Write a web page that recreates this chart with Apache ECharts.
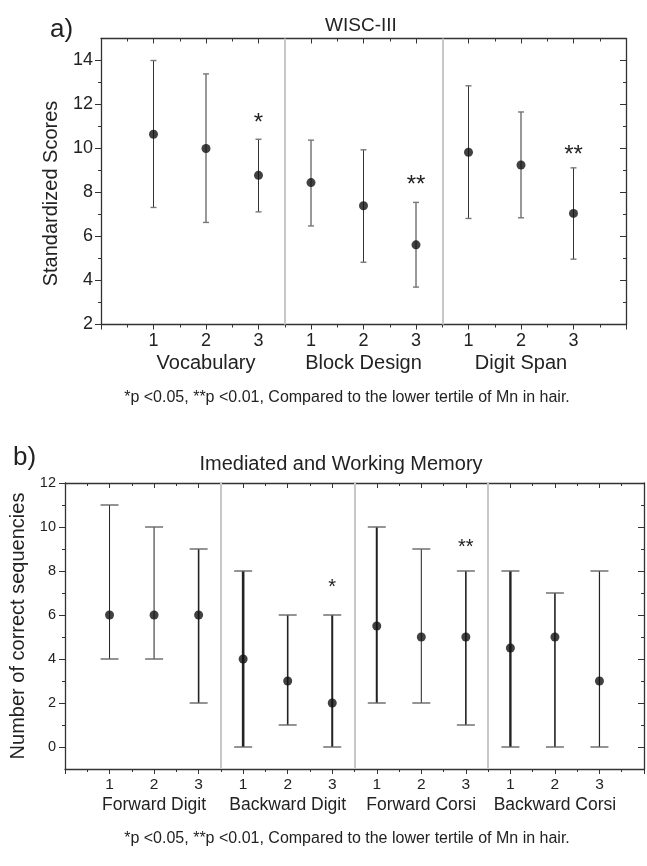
<!DOCTYPE html>
<html><head><meta charset="utf-8">
<script src="https://cdn.jsdelivr.net/npm/echarts@6/dist/echarts.min.js"></script>
<style>html,body{margin:0;padding:0;background:#fff}#c{width:647px;height:866px}</style>
</head><body><div id="c"></div>
<script>
// ---------- data ----------
const tertiles = ['1', '2', '3'];
// panel a
const groupsA = ['Vocabulary', 'Block Design', 'Digit Span'];
const meanA = [10.65, 10.0, 8.78, 8.45, 7.4, 5.62, 9.83, 9.25, 7.05];
const lowA  = [7.32, 6.64, 7.12, 6.48, 4.83, 3.7, 6.82, 6.85, 4.97];
const highA = [14.0, 13.39, 10.42, 10.38, 9.94, 7.55, 12.85, 11.66, 9.12];
const starsA = ['', '', '*', '', '', '**', '', '', '**'];
const starYA = [null, null, 11.4, null, null, 8.55, null, null, 9.95];
const yTicksA = [2, 4, 6, 8, 10, 12, 14];
const yMinorA = [3, 5, 7, 9, 11, 13];
const dividersA = [3.5, 6.5];
// panel b
const groupsB = ['Forward Digit', 'Backward Digit', 'Forward Corsi', 'Backward Corsi'];
const meanB = [6, 6, 6, 4, 3, 2, 5.5, 5, 5, 4.5, 5, 3];
const lowB  = [4, 4, 2, 0, 1, 0, 2, 2, 1, 0, 0, 0];
const highB = [11, 10, 9, 8, 6, 6, 10, 9, 8, 8, 7, 8];
const starsB = ['', '', '', '', '', '*', '', '', '**', '', '', ''];
const starYB = [null, null, null, null, null, 7.43, null, null, 9.25, null, null, null];
const yTicksB = [0, 2, 4, 6, 8, 10, 12];
const yMinorB = [1, 3, 5, 7, 9, 11];
const dividersB = [3.5, 6.5, 9.5];
// line weights of the error bars in panel b (style)
const lineWB = [1, 1, 1.6, 2.6, 1.6, 2, 2, 1, 1.6, 2.4, 1.6, 1.2];

const footnote = '*p <0.05, **p <0.01, Compared to the lower tertile of Mn in hair.';

// ---------- helpers ----------
const FONT = "'Liberation Sans', Arial, sans-serif";
const INK = '#222';
const AX = '#333';

function xLabelFmt(groups, n) {
  return function (v) {
    if (v < 1 || v > n) return '';
    const i = Math.round(v) - 1;
    const t = tertiles[i % 3];
    if (i % 3 === 1) return '{d|' + t + '}\n{n|' + groups[Math.floor(i / 3)] + '}';
    return '{d|' + t + '}';
  };
}

function xAxes(grid, max, n, groups, dSize, dLH, nSize, nLH) {
  return [
    {
      gridIndex: grid, type: 'value', min: 0, max: max, interval: 1, position: 'bottom',
      axisLine: { show: true, onZero: false, lineStyle: { color: AX, width: 1.3 } },
      axisTick: { show: true, length: 5, lineStyle: { color: AX, width: 1 } },
      minorTick: { show: true, splitNumber: 2, length: 3, lineStyle: { color: AX, width: 1 } },
      splitLine: { show: false },
      axisLabel: {
        margin: 7, formatter: xLabelFmt(groups, n),
        rich: {
          d: { fontFamily: FONT, fontSize: dSize, lineHeight: dLH, color: INK, align: 'center' },
          n: { fontFamily: FONT, fontSize: nSize, lineHeight: nLH, color: INK, align: 'center' }
        }
      }
    },
    {
      gridIndex: grid, type: 'value', min: 0, max: max, interval: 1, position: 'top',
      axisLine: { show: true, onZero: false, lineStyle: { color: AX, width: 1.3 } },
      axisTick: { show: true, inside: true, length: 5, lineStyle: { color: AX, width: 1 } },
      minorTick: { show: true, splitNumber: 2, length: 3, lineStyle: { color: AX, width: 1 } },
      splitLine: { show: false },
      axisLabel: { show: false }
    }
  ];
}

function yAxes(grid, min, max, major, minor, name, nameGap, namePad, labSize, labMargin) {
  const base = { gridIndex: grid, type: 'value', min: min, max: max, splitLine: { show: false } };
  return [
    Object.assign({}, base, {
      position: 'left',
      axisLine: { show: true, onZero: false, lineStyle: { color: AX, width: 1.3 } },
      axisTick: { show: true, length: 6, customValues: major, lineStyle: { color: AX, width: 1 } },
      axisLabel: { customValues: major, margin: labMargin, fontFamily: FONT, fontSize: labSize, color: INK },
      name: name, nameLocation: 'middle', nameGap: nameGap,
      nameTextStyle: { fontFamily: FONT, fontSize: 20, color: INK, padding: namePad }
    }),
    Object.assign({}, base, {
      position: 'left',
      axisLine: { show: false, onZero: false },
      axisTick: { show: true, length: 3, customValues: minor, lineStyle: { color: AX, width: 1 } },
      axisLabel: { show: false }
    }),
    Object.assign({}, base, {
      position: 'right',
      axisLine: { show: true, onZero: false, lineStyle: { color: AX, width: 1.3 } },
      axisTick: { show: true, inside: true, length: 6, customValues: major, lineStyle: { color: AX, width: 1 } },
      axisLabel: { show: false }
    }),
    Object.assign({}, base, {
      position: 'right',
      axisLine: { show: false, onZero: false },
      axisTick: { show: true, inside: true, length: 3, customValues: minor, lineStyle: { color: AX, width: 1 } },
      axisLabel: { show: false }
    })
  ];
}

function errSeries(xi, yi, means, lows, highs, capW, capColor, widths, lineColor) {
  return {
    type: 'custom', xAxisIndex: xi, yAxisIndex: yi, z: 3,
    data: means.map((m, i) => [i + 1, m, lows[i], highs[i]]),
    renderItem: function (params, api) {
      const x = api.value(0);
      const pLo = api.coord([x, api.value(2)]);
      const pHi = api.coord([x, api.value(3)]);
      const lw = widths ? widths[params.dataIndex] : 1;
      return {
        type: 'group', children: [
          { type: 'line', shape: { x1: pLo[0], y1: pLo[1], x2: pHi[0], y2: pHi[1] }, style: { stroke: lineColor, lineWidth: lw } },
          { type: 'line', shape: { x1: pHi[0] - capW / 2, y1: pHi[1], x2: pHi[0] + capW / 2, y2: pHi[1] }, style: { stroke: capColor, lineWidth: 1.4 } },
          { type: 'line', shape: { x1: pLo[0] - capW / 2, y1: pLo[1], x2: pLo[0] + capW / 2, y2: pLo[1] }, style: { stroke: capColor, lineWidth: 1.4 } }
        ]
      };
    }
  };
}

function meanSeries(xi, yi, means) {
  return {
    type: 'scatter', xAxisIndex: xi, yAxisIndex: yi, z: 4,
    symbol: 'circle', symbolSize: 9, itemStyle: { color: '#111' },
    data: means.map((m, i) => [i + 1, m])
  };
}

function starSeries(xi, yi, stars, ys, size) {
  const txt = [], data = [];
  stars.forEach((s, i) => { if (s) { txt.push(s); data.push([i + 1, ys[i]]); } });
  return {
    type: 'custom', xAxisIndex: xi, yAxisIndex: yi, z: 5, data: data,
    renderItem: function (params, api) {
      const p = api.coord([api.value(0), api.value(1)]);
      return {
        type: 'text', x: p[0], y: p[1] + size * 0.22,
        style: { text: txt[params.dataIndex], fontFamily: FONT, fontSize: size, fill: INK, align: 'center', verticalAlign: 'middle' }
      };
    }
  };
}

function dividerSeries(xi, yi, divs) {
  return {
    type: 'line', xAxisIndex: xi, yAxisIndex: yi, data: [], z: 1,
    markLine: {
      silent: true, symbol: ['none', 'none'], label: { show: false },
      lineStyle: { color: '#c8c8c8', width: 2, type: 'solid' },
      data: divs.map(v => ({ xAxis: v }))
    }
  };
}

const tStyle = (size) => ({ fontFamily: FONT, fontSize: size, fontWeight: 'normal', color: INK });

const option = {
  animation: false,
  backgroundColor: '#fff',
  title: [
    { text: 'a)', left: 45, top: 12, textStyle: tStyle(26) },
    { text: 'WISC-III', left: 356, top: 11, textAlign: 'center', textStyle: tStyle(19) },
    { text: footnote, left: 342, top: 385, textAlign: 'center', textStyle: tStyle(16) },
    { text: 'b)', left: 8, top: 440, textStyle: tStyle(26) },
    { text: 'Imediated and Working Memory', left: 336, top: 449, textAlign: 'center', textStyle: tStyle(20) },
    { text: footnote, left: 342, top: 826, textAlign: 'center', textStyle: tStyle(16) }
  ],
  grid: [
    { left: 101, top: 38.5, width: 525, height: 286, containLabel: false },
    { left: 65, top: 483, width: 581, height: 286, containLabel: false }
  ],
  xAxis: [].concat(
    xAxes(0, 10, 9, groupsA, 18, 20, 20, 24),
    xAxes(1, 13, 12, groupsB, 15.5, 17, 17.5, 25)
  ),
  yAxis: [].concat(
    yAxes(0, 2, 15, yTicksA, yMinorA, 'Standardized Scores', 40, [0, 24, 0, 0], 18, 8),
    yAxes(1, -1, 12, yTicksB, yMinorB, 'Number of correct sequencies', 36, 0, 14.5, 9)
  ),
  series: [
    dividerSeries(0, 0, dividersA),
    errSeries(0, 0, meanA, lowA, highA, 6, '#777', null, '#333'),
    meanSeries(0, 0, meanA),
    starSeries(0, 0, starsA, starYA, 24),
    dividerSeries(2, 4, dividersB),
    errSeries(2, 4, meanB, lowB, highB, 18, '#666', lineWB, '#222'),
    meanSeries(2, 4, meanB),
    starSeries(2, 4, starsB, starYB, 20)
  ]
};

const chart = echarts.init(document.getElementById('c'), null, { renderer: 'canvas' });
chart.setOption(option);
</script>
</body></html>
